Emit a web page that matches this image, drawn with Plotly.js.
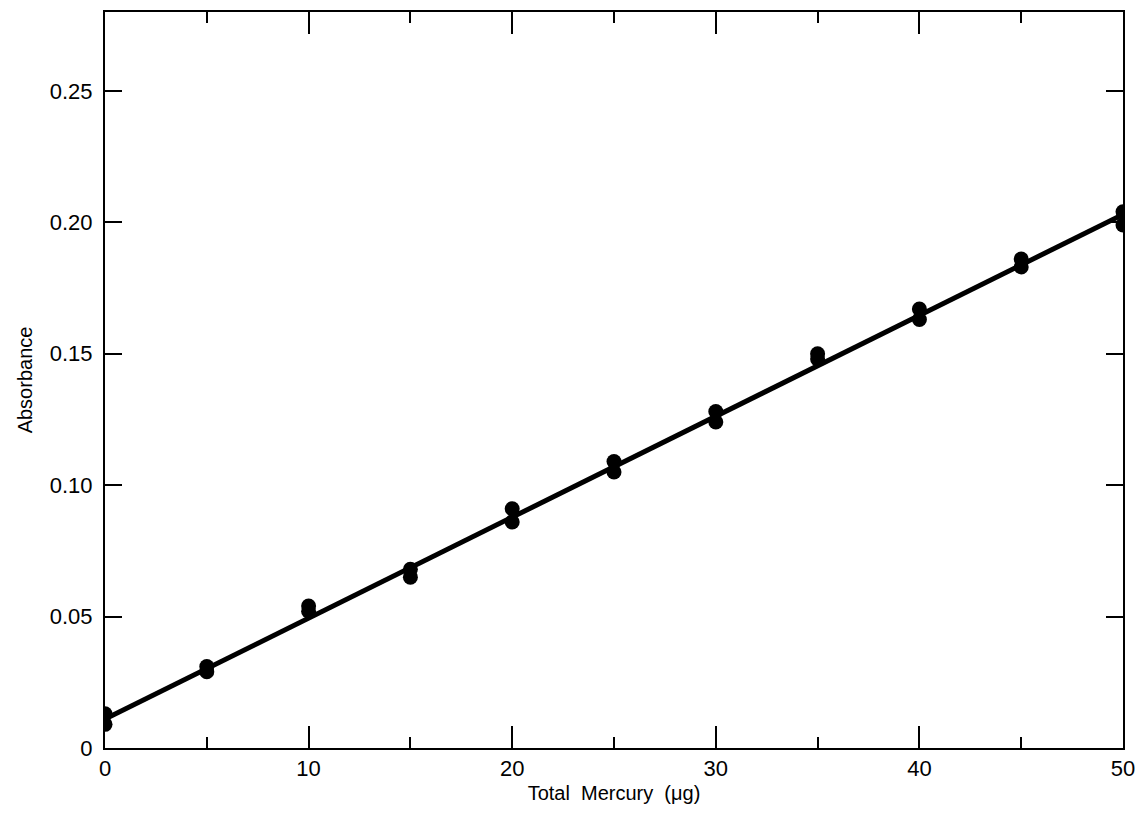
<!DOCTYPE html>
<html>
<head>
<meta charset="utf-8">
<script src="https://cdn.plot.ly/plotly-3.0.1.min.js"></script>
<style>html,body{margin:0;padding:0;background:#fff;}#chart{width:1146px;height:823px;}</style>
</head>
<body>
<div id="chart"></div>
<script>
const mercury = [0, 0, 5, 5, 10, 10, 15, 15, 20, 20, 25, 25, 30, 30, 35, 35, 40, 40, 45, 45, 50, 50];
const absorbance = [0.013, 0.009, 0.031, 0.029, 0.054, 0.052, 0.068, 0.065, 0.091, 0.086, 0.109, 0.105, 0.128, 0.124, 0.150, 0.148, 0.167, 0.163, 0.186, 0.183, 0.204, 0.199];
const fitX = [0, 50];
const fitY = [0.011, 0.203];
const xTickVals = [0, 10, 20, 30, 40, 50];
const xTickText = ['0', '10', '20', '30', '40', '50'];
const yTickVals = [0, 0.05, 0.10, 0.15, 0.20, 0.25];
const yTickText = ['0', '0.05', '0.10', '0.15', '0.20', '0.25'];

const font = 'Liberation Sans, Arial, sans-serif';
const traces = [
  {x: fitX, y: fitY, mode: 'lines', line: {color: '#000', width: 5}, hoverinfo: 'skip'},
  {x: mercury, y: absorbance, mode: 'markers', marker: {color: '#000', size: 15, symbol: 'circle'}}
];
const layout = {
  width: 1146, height: 823,
  margin: {l: 105, r: 23, t: 12, b: 75},
  paper_bgcolor: '#fff', plot_bgcolor: '#fff',
  showlegend: false,
  font: {family: font, color: '#000', size: 22},
  xaxis: {
    range: [0, 50], tickvals: xTickVals, ticktext: xTickText,
    ticks: 'inside', ticklen: 22, tickwidth: 2, tickcolor: '#000',
    minor: {tickvals: [5, 15, 25, 35, 45], ticks: 'inside', ticklen: 11, tickwidth: 2, tickcolor: '#000'},
    showline: true, linewidth: 2, linecolor: '#000', mirror: 'ticks',
    showgrid: false, zeroline: false,
    tickfont: {size: 22, family: font},
    title: {text: 'Total&nbsp; Mercury&nbsp; (\u03bcg)', font: {size: 20, family: font}, standoff: 6}
  },
  yaxis: {
    range: [0, 0.28], tickvals: yTickVals, ticktext: yTickText,
    ticks: 'inside', ticklen: 17, tickwidth: 2, tickcolor: '#000',
    showline: true, linewidth: 2, linecolor: '#000', mirror: 'ticks',
    showgrid: false, zeroline: false,
    ticklabelstandoff: 6,
    tickfont: {size: 22, family: font},
    title: {text: 'Absorbance', font: {size: 20, family: font}, standoff: 12}
  }
};
Plotly.newPlot('chart', traces, layout, {displayModeBar: false, staticPlot: true});
</script>
</body>
</html>
